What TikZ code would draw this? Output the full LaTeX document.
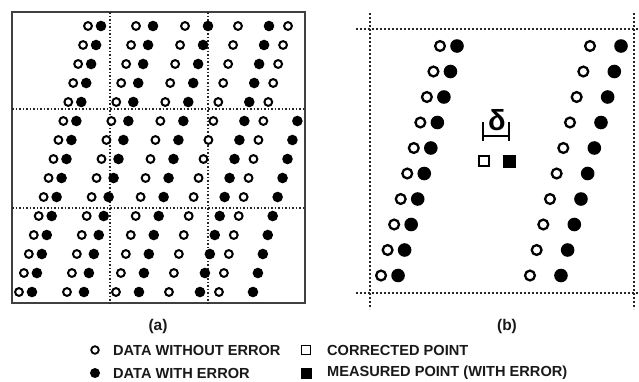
\documentclass[tikz,border=0pt]{standalone}
\usepackage{fontspec}
\setmainfont{Liberation Sans}
\begin{document}
\begin{tikzpicture}[x=1pt,y=-1pt,
  opendot/.style={circle,draw=black,line width=#1,fill=white,inner sep=0pt},
  soliddot/.style={circle,fill=black,draw=none,inner sep=0pt},
  gridline/.style={line width=1.6pt,dash pattern=on 1.6pt off 1.9pt,draw=black!85},
  frameline/.style={line width=1.7pt,dash pattern=on 1.8pt off 2.2pt,draw=black!85},
  label/.style={font=\bfseries\fontsize{14.6}{16}\selectfont,text=black!90,inner sep=0pt},
  caption/.style={font=\bfseries\fontsize{15.5}{17}\selectfont,text=black!90,inner sep=0pt}]
\useasboundingbox (0,0) rectangle (639,381);

% ---------- panel (a): full grid ----------
\draw[line width=2pt,draw=black!75] (12,12) rectangle (305,303);
\draw[gridline] (110,12) -- (110,303);
\draw[gridline] (208,12) -- (208,303);
\draw[gridline] (12,109) -- (305,109);
\draw[gridline] (12,208) -- (305,208);

\foreach \k in {0,...,14}{
  \foreach \dx/\e [count=\j] in {0/13,48/17,97/23,150/31,200/34}{
    \pgfmathsetmacro\xh{88-4.93*\k+\dx}
    \pgfmathsetmacro\xf{\xh+\e}
    \pgfmathsetmacro\yy{26+19*\k}
    \pgfmathtruncatemacro\inside{\xf<300}
    \node[opendot=2pt,minimum size=7.8pt] (ah-\k-\j) at (\xh,\yy) {};
    \ifnum\inside=1
      \node[soliddot,minimum size=10.6pt] (af-\k-\j) at (\xf,\yy) {};
    \fi
  }
}

% ---------- panel (b): enlarged view ----------
\draw[frameline] (356,29) -- (639,29);
\draw[frameline] (356,293) -- (639,293);
\draw[frameline] (370,13) -- (370,309);
\draw[frameline] (634,13) -- (634,309);

\foreach \k in {0,...,9}{
  \pgfmathsetmacro\yy{46+25.5*\k}
  \pgfmathsetmacro\xl{440-6.55*\k}
  \pgfmathsetmacro\xr{590-6.67*\k}
  \node[opendot=2.3pt,minimum size=9.8pt] (bl-h-\k) at (\xl,\yy) {};
  \node[soliddot,minimum size=13.6pt] (bl-f-\k) at (\xl+17,\yy) {};
  \node[opendot=2.3pt,minimum size=9.8pt] (br-h-\k) at (\xr,\yy) {};
  \node[soliddot,minimum size=13.6pt] (br-f-\k) at (\xr+31,\yy) {};
}

% offset marker between corrected and measured point
\node[font=\bfseries\fontsize{29}{29}\selectfont,inner sep=0pt] (delta) at (497,120) {δ};
\coordinate (tickL) at (483,136);
\coordinate (tickR) at (509,136);
\draw[line width=2.2pt] ([yshift=-5pt]tickL) -- ([yshift=14pt]tickL);
\draw[line width=2.2pt] ([yshift=-5pt]tickR) -- ([yshift=14pt]tickR);
\draw[line width=2.2pt] (tickL) -- (tickR);
\node[rectangle,draw=black,line width=2pt,fill=white,minimum size=9.5pt,inner sep=0pt] (corr) at (484,161) {};
\node[rectangle,fill=black,minimum size=13pt,inner sep=0pt] (meas) at (509,161) {};

% ---------- captions ----------
\node[caption] (capA) at (158,326) {(a)};
\node[caption] (capB) at (507,326) {(b)};

% ---------- legend ----------
\node[opendot=1.8pt,minimum size=7.6pt] (lg1) at (95,350) {};
\node[label,anchor=west] (lt1) at (113,350) {DATA WITHOUT ERROR};
\node[soliddot,minimum size=10pt] (lg2) at (95,373) {};
\node[label,anchor=west] (lt2) at (113,373) {DATA WITH ERROR};
\node[rectangle,draw=black,line width=1.6pt,fill=white,minimum size=8.8pt,inner sep=0pt] (lg3) at (306,350) {};
\node[label,anchor=west] (lt3) at (327,350) {CORRECTED POINT};
\node[rectangle,fill=black,minimum size=11pt,inner sep=0pt] (lg4) at (306,373) {};
\node[label,anchor=west] (lt4) at (327,373) {MEASURED POINT (WITH ERROR)};
\end{tikzpicture}
\end{document}
